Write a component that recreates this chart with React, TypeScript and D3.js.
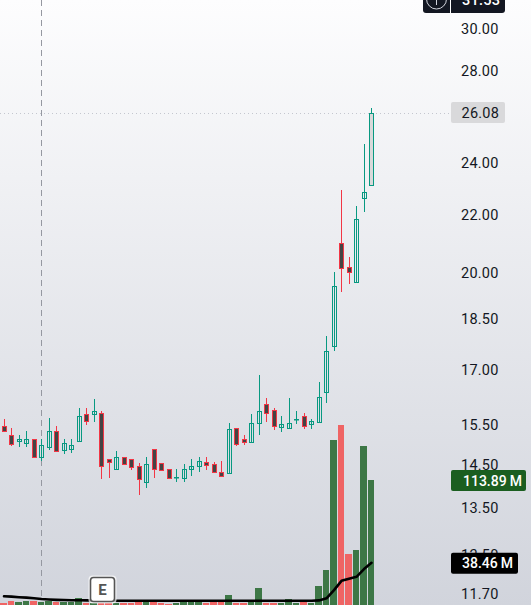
import React from "react";
import * as d3 from "d3";

const W = 531;
const H = 605;

const opens = [15.49,15.26,15.10,15.06,15.14,14.71,14.96,15.36,14.88,14.90,15.09,15.78,15.78,15.83,14.64,14.42,14.69,14.66,14.49,14.11,14.89,14.56,14.42,14.21,14.20,14.42,14.49,14.59,14.54,14.34,14.32,15.44,15.16,15.08,15.56,16.07,15.91,15.46,15.44,15.66,15.73,15.52,15.59,16.38,17.69,21.00,20.19,19.68,22.64,23.14];
const closes = [15.35,15.03,15.14,15.15,14.71,14.99,15.36,14.85,15.06,14.99,15.73,15.61,15.86,14.48,14.58,14.69,14.54,14.46,14.18,14.54,14.42,14.39,14.20,14.22,14.42,14.49,14.61,14.51,14.33,14.24,15.41,15.03,15.08,15.57,15.88,15.83,15.47,15.54,15.57,15.67,15.47,15.60,16.26,17.54,19.56,20.15,20.01,21.84,22.88,26.08];
const highs = [15.65,15.44,15.26,15.34,15.16,15.14,15.70,15.49,15.14,15.14,15.96,15.96,16.18,15.86,14.66,14.84,14.71,14.66,14.56,14.69,14.91,14.56,14.42,14.42,14.54,14.64,14.71,14.69,14.59,14.61,15.57,15.44,15.24,15.78,16.84,16.23,15.96,15.75,16.23,15.88,15.83,15.67,16.67,17.98,20.00,22.93,20.50,22.35,24.75,26.29];
const lows = [15.35,14.98,14.95,14.95,14.71,14.60,14.88,14.83,14.78,14.80,15.09,15.51,15.59,14.17,14.19,14.42,14.54,14.39,13.80,13.96,14.19,14.36,14.17,14.10,14.10,14.24,14.33,14.39,14.31,14.21,14.32,14.98,15.00,15.08,15.25,15.59,15.38,15.33,15.44,15.53,15.40,15.40,15.59,16.08,17.54,19.36,19.62,19.68,22.12,23.14];
const volumes = [1.5,3.6,2.7,3.6,3.6,3.0,3.9,3.0,3.0,3.0,6.4,2.1,2.1,2.1,2.1,2.1,2.1,2.1,3.0,3.4,3.4,1.8,0.9,2.1,3.0,3.0,2.4,2.1,3.0,3.0,9.1,2.1,2.1,4.5,15.5,2.1,2.1,2.1,5.5,2.1,2.7,2.1,17.3,31.8,150,163.6,46.4,50,144.5,113.89];
const volumeMA = [8.0,7.6,7.1,6.7,6.2,5.4,5.0,4.7,4.5,4.3,4.3,4.2,4.1,4.0,4.0,3.9,3.9,3.9,3.9,3.9,3.9,3.9,3.9,3.9,3.9,3.9,3.9,3.9,3.9,3.9,3.9,3.9,3.9,3.9,3.9,3.9,3.9,3.9,3.9,3.9,3.9,3.9,4.2,6.1,13.6,22,24,25.7,32.7,38.46];
const priceTicks = ["30.00","28.00","24.00","22.00","20.00","18.50","17.00","15.50","14.50","13.50","12.50","11.70"];

const lastPrice = "26.08";
const volumeLabel = "113.89";
const maLabel = "38.46";
const unitLabel = "M";
const countdownPrice = "31.53";
const eventLetter = "E";
const eventIndex = 13;
const crosshairIndex = 5;

const GREEN = "#089981";
const RED = "#f23645";
const DARK = "#444444";
const VOL_GREEN = "#3d7746";
const VOL_RED = "#ef6464";
const FONT = "Roboto, 'Open Sans', sans-serif";

const x = d3.scaleLinear().domain([0, 1]).range([3.5, 11]);
const y = d3.scaleLog().domain([11.7, 30]).range([594, 29]);
const v = d3.scaleLinear().domain([0, 113.89]).range([605, 480]);

export default function App() {
  const maPath = d3
    .line<number>()
    .x((_, i) => x(i) + 0.5)
    .y((d) => v(d))
    .curve(d3.curveLinear)(volumeMA)!;

  return (
    <svg
      width={W}
      height={H}
      viewBox={`0 0 ${W} ${H}`}
      style={{ position: "fixed", left: 0, top: 0, display: "block" }}
      fontFamily={FONT}
    >
      <defs>
        <linearGradient id="bg" x1="0" y1="0" x2="0" y2="1">
          <stop offset="0" stopColor="#fdfdfe" />
          <stop offset="1" stopColor="#d1d4dc" />
        </linearGradient>
      </defs>
      <rect x={0} y={0} width={W} height={H} fill="url(#bg)" />

      <line
        x1={Math.ceil(x(crosshairIndex)) + 0.5}
        x2={Math.ceil(x(crosshairIndex)) + 0.5}
        y1={0}
        y2={600}
        stroke="#9598a1"
        strokeWidth={1}
        strokeDasharray="6 4"
      />
      <line
        x1={0}
        x2={451}
        y1={Math.round(y(26.08)) + 0.5}
        y2={Math.round(y(26.08)) + 0.5}
        stroke="#c4c7cf"
        strokeWidth={1}
        strokeDasharray="1 3"
      />

      {volumes.map((d, i) => {
        const left = Math.round(x(i) - 3.5);
        const right = Math.floor(x(i) + 3.5);
        const top = Math.round(v(d));
        return (
          <rect
            key={i}
            x={left}
            y={top}
            width={right - left}
            height={H - top}
            fill={closes[i] < opens[i] ? VOL_RED : VOL_GREEN}
          />
        );
      })}

      <path d={maPath} fill="none" stroke="#000" strokeWidth={2.6} strokeLinejoin="round" strokeLinecap="round" />

      {opens.map((o, i) => {
        const c = closes[i];
        const isDown = c < o;
        const col = isDown ? RED : GREEN;
        const cx = Math.ceil(x(i));
        const top = Math.round(y(Math.max(o, c)));
        const bot = Math.round(y(Math.min(o, c)));
        const isLast = i === opens.length - 1;
        return (
          <g key={i}>
            <rect x={cx} y={Math.round(y(highs[i]))} width={1} height={Math.max(1, Math.round(y(lows[i])) - Math.round(y(highs[i])))} fill={col} />
            <rect
              x={cx - 1.5}
              y={top + 0.5}
              width={4}
              height={Math.max(0.5, bot - top)}
              fill={isDown ? DARK : isLast ? "#d9d9da" : "none"}
              stroke={col}
              strokeWidth={1}
            />
          </g>
        );
      })}

      <g>
        <rect x={x(eventIndex) - 12.5} y={575.5} width={28} height={28} rx={4} fill="#fff" fillOpacity={0.7} />
        <rect x={x(eventIndex) - 10.5} y={577.5} width={24} height={24} rx={3} fill="#fff" stroke="#555" strokeWidth={1.6} />
        <text x={x(eventIndex) + 1.5} y={595} textAnchor="middle" fontSize={15} fontWeight={700} fill="#555">
          {eventLetter}
        </text>
      </g>

      {priceTicks.map((t) => (
        <text key={t} x={461} y={y(+t)} dy="0.36em" fontSize={14.5} letterSpacing={0.25} fill="#131722">
          {t}
        </text>
      ))}

      <rect x={451} y={y(26.08) - 11} width={54} height={21} rx={2} fill="#d9d9db" />
      <text x={461.5} y={y(26.08)} dy="0.36em" fontSize={14.5} letterSpacing={0.25} fill="#131722">
        {lastPrice}
      </text>

      <path d="M423 -5 H505 V10 a3 3 0 0 1 -3 3 H426 a3 3 0 0 1 -3 -3 Z" fill="#131722" />
      <rect x={450} y={0} width={1} height={13} fill="#fff" />
      <circle cx={436.5} cy={-1} r={10} fill="none" stroke="#d1d4dc" strokeWidth={1} />
      <rect x={436} y={0} width={1} height={5} fill="#d1d4dc" />
      <text x={462} y={0} dy="0.36em" fontSize={14.5} fontWeight={500} letterSpacing={0.25} fill="#fff">
        {countdownPrice}
      </text>

      <rect x={451} y={v(113.89) - 10} width={75} height={21} rx={2} fill="#1b5e20" />
      <text x={463} y={v(113.89) + 0.5} dy="0.36em" fontSize={14} fontWeight={500} fill="#fff">
        {volumeLabel}
        <tspan dx={3}>{unitLabel}</tspan>
      </text>

      <rect x={451} y={v(38.46) - 10} width={67} height={21} rx={2} fill="#000" />
      <text x={462} y={v(38.46) + 0.5} dy="0.36em" fontSize={14} fontWeight={500} fill="#fff">
        {maLabel}
        <tspan dx={3}>{unitLabel}</tspan>
      </text>
    </svg>
  );
}
